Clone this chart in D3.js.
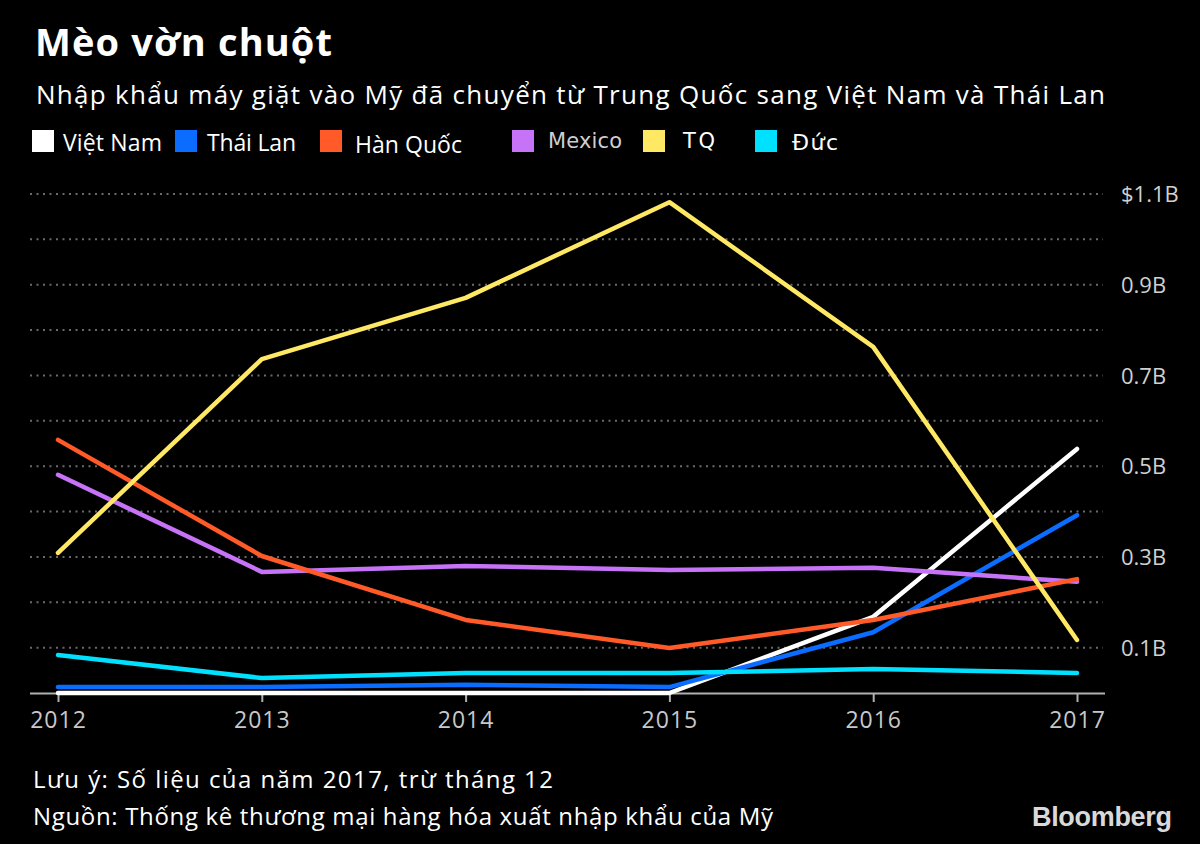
<!DOCTYPE html>
<html><head><meta charset="utf-8">
<script src="https://cdn.jsdelivr.net/npm/d3@7"></script>
<style>
html,body{margin:0;padding:0;background:#000;}
svg{display:block;}
</style>
</head><body>
<svg id="c" width="1200" height="844"></svg>
<script>
const years = [2012, 2013, 2014, 2015, 2016, 2017];
const seriesNames = ["Việt Nam", "Thái Lan", "Hàn Quốc", "Mexico", "TQ", "Đức"];
const seriesColors = ["#ffffff", "#0a6dff", "#ff5a28", "#c673f7", "#ffe863", "#00e1ff"];
const vietNam = [0.0, 0.0, 0.0, 0.0, 0.168, 0.538];
const thaiLan = [0.013, 0.013, 0.018, 0.013, 0.134, 0.392];
const hanQuoc = [0.558, 0.302, 0.161, 0.099, 0.161, 0.251];
const mexico = [0.481, 0.267, 0.280, 0.271, 0.276, 0.245];
const tq = [0.309, 0.736, 0.871, 1.082, 0.763, 0.117];
const duc = [0.084, 0.033, 0.044, 0.044, 0.053, 0.044];
const gridValues = [0.1,0.2,0.3,0.4,0.5,0.6,0.7,0.8,0.9,1.0,1.1];
const yTickValues = [0.1, 0.3, 0.5, 0.7, 0.9, 1.1];
const yTickLabels = ["0.1B", "0.3B", "0.5B", "0.7B", "0.9B", "$1.1B"];
const title = "Mèo vờn chuột";
const subtitle = "Nhập khẩu máy giặt vào Mỹ đã chuyển từ Trung Quốc sang Việt Nam và Thái Lan";
const note = "Lưu ý: Số liệu của năm 2017, trừ tháng 12";
const source = "Nguồn: Thống kê thương mại hàng hóa xuất nhập khẩu của Mỹ";

const seriesData = [vietNam, thaiLan, hanQuoc, mexico, tq, duc];
const drawOrder = [0, 1, 5, 3, 2, 4];

const svg = d3.select("#c");
const font = "'Open Sans', 'Noto Sans', sans-serif";

// adjust letter spacing so a text spans a target width
function fit(sel, target) {
  const node = sel.node();
  const n = node.getNumberOfChars();
  const len = node.getComputedTextLength();
  if (n > 1) sel.attr("letter-spacing", (target - len) / (n - 1));
  return sel;
}

const x = d3.scaleLinear().domain([2012, 2017]).range([58, 1077]);
const y = d3.scaleLinear().domain([0, 1.1]).range([693, 194]);

// title & subtitle
fit(svg.append("text").attr("x", 35).attr("y", 56).attr("fill", "#fff")
  .attr("font-family", font).attr("font-weight", 700).attr("font-size", 38).text(title), 297);
fit(svg.append("text").attr("x", 36).attr("y", 104).attr("fill", "#fff")
  .attr("font-family", font).attr("font-size", 26).text(subtitle), 1069);

// legend
const legendX = [32, 175, 320, 512, 643, 755];
const legendTextX = [63, 207, 355, 548, 683, 792];
const legendW = [99, 89, 107, 74, 32, 46];
const legendFonts = [font, font, font, "'DejaVu Sans', sans-serif", "'DejaVu Sans', sans-serif", "'DejaVu Sans', sans-serif"];
const legendSize = [23, 23, 23, 21, 21, 22];
const legendTextColor = ["#fff", "#fff", "#fff", "#cfcfcf", "#fff", "#fff"];
const legendTextY = [151, 151, 153, 148, 148, 150];
seriesNames.forEach((n, i) => {
  svg.append("rect").attr("x", legendX[i]).attr("y", 130).attr("width", 22).attr("height", 22)
    .attr("fill", seriesColors[i]);
  fit(svg.append("text").attr("x", legendTextX[i]).attr("y", legendTextY[i])
    .attr("fill", legendTextColor[i]).attr("font-family", legendFonts[i])
    .attr("font-size", legendSize[i]).text(n), legendW[i]);
});

// grid
const grid = svg.append("g");
grid.selectAll("line").data(gridValues).join("line")
  .attr("x1", 30).attr("x2", 1103)
  .attr("y1", d => y(d)).attr("y2", d => y(d))
  .attr("stroke", "#6a6a6a").attr("stroke-width", 2).attr("stroke-dasharray", "2,4.5");

// y labels
const yAxis = d3.axisRight(y).tickValues(yTickValues)
  .tickFormat((d, i) => yTickLabels[i]).tickSize(0).tickPadding(0);
const yg = svg.append("g").attr("transform", "translate(1121,0)").call(yAxis);
yg.select(".domain").remove();
yg.selectAll("text").attr("fill", "#d0d0d0").attr("font-family", font)
  .attr("font-size", 22).attr("dy", "0.35em");

// x axis
const xAxis = d3.axisBottom(x).tickValues(years).tickFormat(d3.format("d"))
  .tickSize(9).tickPadding(10).tickSizeOuter(0);
const xg = svg.append("g").attr("transform", "translate(0,693)").call(xAxis);
xg.select(".domain").attr("d", "M30,0.5H1105").attr("stroke", "#b0b0b0").attr("stroke-width", 2);
xg.selectAll(".tick line").attr("stroke", "#b0b0b0").attr("stroke-width", 2);
xg.selectAll("text").attr("fill", "#c8c8c8").attr("font-family", font).attr("font-size", 23)
  .attr("letter-spacing", 1);

// lines
const line = d3.line().x((d, i) => x(years[i])).y(d => y(d));
const lg = svg.append("g");
drawOrder.forEach(i => {
  lg.append("path").datum(seriesData[i]).attr("d", line)
    .attr("fill", "none").attr("stroke", seriesColors[i]).attr("stroke-width", 4.5)
    .attr("stroke-linejoin", "round").attr("stroke-linecap", "round");
});

// footer
fit(svg.append("text").attr("x", 33).attr("y", 788).attr("fill", "#fff")
  .attr("font-family", font).attr("font-size", 24).text(note), 520);
fit(svg.append("text").attr("x", 33).attr("y", 825).attr("fill", "#fff")
  .attr("font-family", font).attr("font-size", 24).text(source), 740);
fit(svg.append("text").attr("x", 1032).attr("y", 826).attr("fill", "#d9d9d9")
  .attr("font-family", "'Liberation Sans', Arial, sans-serif").attr("font-weight", 700)
  .attr("font-size", 27).text("Bloomberg"), 140);
</script>
</body></html>
